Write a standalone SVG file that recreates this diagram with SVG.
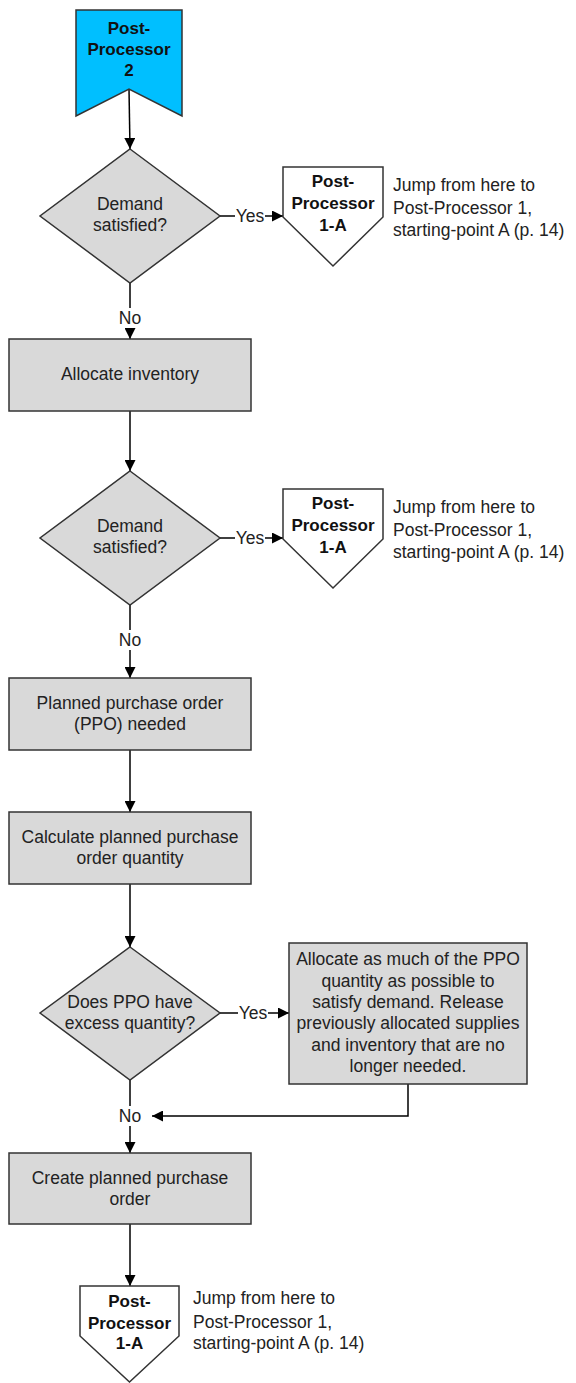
<svg xmlns="http://www.w3.org/2000/svg" width="576" height="1383" viewBox="0 0 576 1383">
<style>
.proc{fill:#D9D9D9;stroke:#333;stroke-width:1.5}
.term{fill:#00BFFF;stroke:#333;stroke-width:1.5}
.conn{fill:#fff;stroke:#333;stroke-width:1.5}
.t{font-family:"Liberation Sans",Arial,sans-serif;font-size:17.5px;fill:#222;text-anchor:middle}
.tl{font-family:"Liberation Sans",Arial,sans-serif;font-size:17.5px;fill:#222;text-anchor:start}
.b{font-family:"Liberation Sans",Arial,sans-serif;font-size:17px;font-weight:bold;fill:#111;text-anchor:middle}
.ln{fill:none;stroke:#000;stroke-width:1.5}
</style>
<defs>
<marker id="ah" markerUnits="userSpaceOnUse" markerWidth="12" markerHeight="11" refX="11" refY="5.5" orient="auto">
<path d="M0,0 L11,5.5 L0,11 Z" fill="#000"/>
</marker>
</defs>
<rect width="576" height="1383" fill="#fff"/>

<g id="connectors">
<line class="ln" x1="129" y1="89" x2="130" y2="149" marker-end="url(#ah)"/>
<line class="ln" x1="220" y1="216" x2="235" y2="216"/>
<line class="ln" x1="265" y1="216" x2="283" y2="216" marker-end="url(#ah)"/>
<line class="ln" x1="130" y1="283" x2="130" y2="308"/>
<line class="ln" x1="130" y1="328" x2="130" y2="339" marker-end="url(#ah)"/>
<line class="ln" x1="130" y1="411" x2="130" y2="471" marker-end="url(#ah)"/>
<line class="ln" x1="220" y1="538" x2="235" y2="538"/>
<line class="ln" x1="265" y1="538" x2="283" y2="538" marker-end="url(#ah)"/>
<line class="ln" x1="130" y1="605" x2="130" y2="630"/>
<line class="ln" x1="130" y1="650" x2="130" y2="678" marker-end="url(#ah)"/>
<line class="ln" x1="130" y1="750" x2="130" y2="812" marker-end="url(#ah)"/>
<line class="ln" x1="130" y1="884" x2="130" y2="947" marker-end="url(#ah)"/>
<line class="ln" x1="220" y1="1013" x2="238" y2="1013"/>
<line class="ln" x1="268" y1="1013" x2="289" y2="1013" marker-end="url(#ah)"/>
<polyline class="ln" points="408,1084 408,1116 152,1116" marker-end="url(#ah)"/>
<line class="ln" x1="130" y1="1080" x2="130" y2="1106"/>
<line class="ln" x1="130" y1="1126" x2="130" y2="1153" marker-end="url(#ah)"/>
<line class="ln" x1="130" y1="1224" x2="130" y2="1286" marker-end="url(#ah)"/>
<text class="t" x="250" y="222">Yes</text>
<text class="t" x="130" y="324">No</text>
<text class="t" x="250" y="544">Yes</text>
<text class="t" x="130" y="646">No</text>
<text class="t" x="253" y="1019">Yes</text>
<text class="t" x="130" y="1122">No</text>
</g>

<g id="start">
<path class="term" d="M76,10 H182 V116 L129,89 L76,116 Z"/>
<text class="b" x="129" y="34">Post-</text>
<text class="b" x="129" y="55">Processor</text>
<text class="b" x="129" y="76">2</text>
</g>

<g id="decision1">
<path class="proc" d="M130,149 L220,216 L130,283 L40,216 Z"/>
<text class="t" x="130" y="210">Demand</text>
<text class="t" x="130" y="231">satisfied?</text>
</g>

<g id="jump1">
<path class="conn" d="M283,167 H383 V217 L333,266 L283,217 Z"/>
<text class="b" x="333" y="187">Post-</text>
<text class="b" x="333" y="209">Processor</text>
<text class="b" x="333" y="231">1-A</text>
<text class="tl" x="393" y="191">Jump from here to</text>
<text class="tl" x="393" y="214">Post-Processor 1,</text>
<text class="tl" x="393" y="236">starting-point A (p. 14)</text>
</g>

<g id="allocate">
<rect class="proc" x="9" y="339" width="242" height="72"/>
<text class="t" x="130" y="380">Allocate inventory</text>
</g>

<g id="decision2">
<path class="proc" d="M130,471 L220,538 L130,605 L40,538 Z"/>
<text class="t" x="130" y="532">Demand</text>
<text class="t" x="130" y="553">satisfied?</text>
</g>

<g id="jump2">
<path class="conn" d="M283,489 H383 V539 L333,588 L283,539 Z"/>
<text class="b" x="333" y="509">Post-</text>
<text class="b" x="333" y="531">Processor</text>
<text class="b" x="333" y="553">1-A</text>
<text class="tl" x="393" y="513">Jump from here to</text>
<text class="tl" x="393" y="536">Post-Processor 1,</text>
<text class="tl" x="393" y="558">starting-point A (p. 14)</text>
</g>

<g id="ppo-needed">
<rect class="proc" x="9" y="678" width="242" height="72"/>
<text class="t" x="130" y="709">Planned purchase order</text>
<text class="t" x="130" y="730">(PPO) needed</text>
</g>

<g id="calculate">
<rect class="proc" x="9" y="812" width="242" height="72"/>
<text class="t" x="130" y="843">Calculate planned purchase</text>
<text class="t" x="130" y="864">order quantity</text>
</g>

<g id="decision3">
<path class="proc" d="M130,947 L220,1013 L130,1080 L40,1013 Z"/>
<text class="t" x="130" y="1008">Does PPO have</text>
<text class="t" x="130" y="1029">excess quantity?</text>
</g>

<g id="allocate-ppo">
<rect class="proc" x="289" y="943" width="238" height="141"/>
<text class="t" x="408" y="965">Allocate as much of the PPO</text>
<text class="t" x="408" y="987">quantity as possible to</text>
<text class="t" x="408" y="1008">satisfy demand. Release</text>
<text class="t" x="408" y="1029">previously allocated supplies</text>
<text class="t" x="408" y="1051">and inventory that are no</text>
<text class="t" x="408" y="1072">longer needed.</text>
</g>

<g id="create">
<rect class="proc" x="9" y="1153" width="242" height="71"/>
<text class="t" x="130" y="1184">Create planned purchase</text>
<text class="t" x="130" y="1205">order</text>
</g>

<g id="jump3">
<path class="conn" d="M80,1286 H179 V1336 L129.5,1382 L80,1336 Z"/>
<text class="b" x="129.5" y="1307">Post-</text>
<text class="b" x="129.5" y="1329">Processor</text>
<text class="b" x="129.5" y="1349">1-A</text>
<text class="tl" x="193" y="1304">Jump from here to</text>
<text class="tl" x="193" y="1328">Post-Processor 1,</text>
<text class="tl" x="193" y="1349">starting-point A (p. 14)</text>
</g>
</svg>
